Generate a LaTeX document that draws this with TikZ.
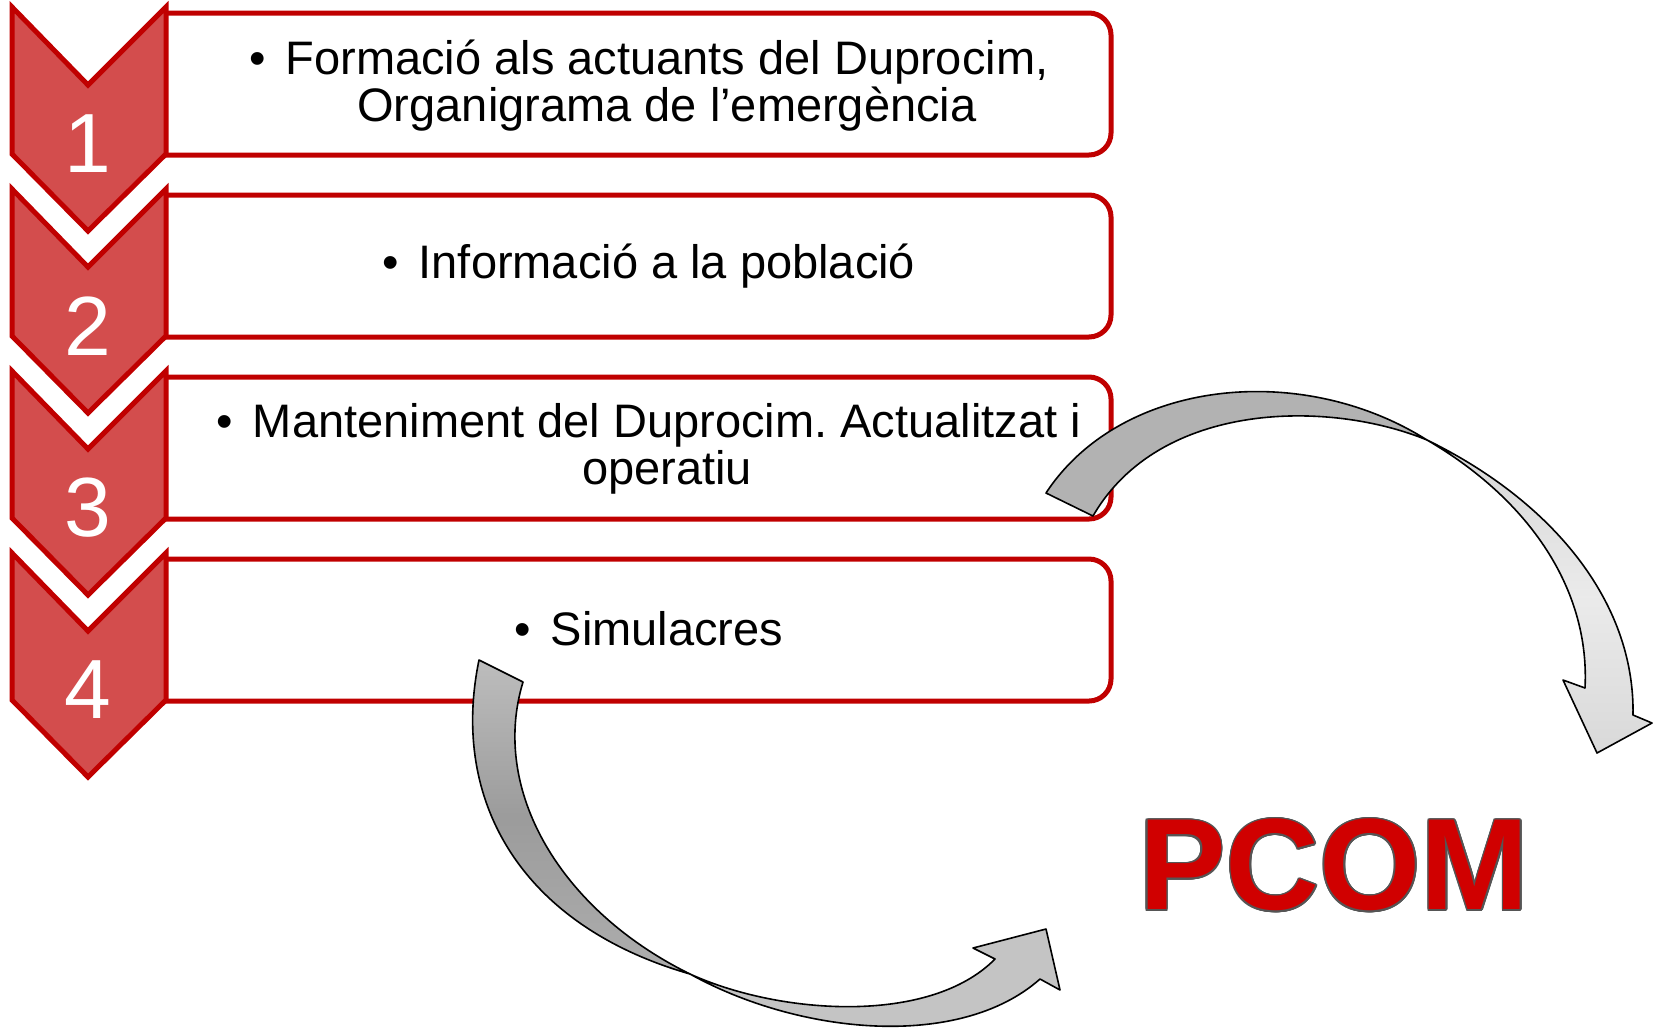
\documentclass[tikz,border=0pt]{standalone}
\usepackage{fontspec}
\setmainfont{Liberation Sans}
\usepackage{xcolor}
\usepackage{tikz}
\usepackage{contour}
\contourlength{0.8pt}
\contournumber{16}
\frenchspacing
\definecolor{boxred}{RGB}{192,0,0}
\definecolor{chevred}{RGB}{211,77,77}
\definecolor{pcomred}{RGB}{208,0,0}
\definecolor{pcomedge}{RGB}{85,85,85}
\NewDocumentCommand{\stepchevron}{m}{%
	\draw[chevron] (12,7+#1) -- (88,85+#1) -- (166,7+#1) -- (166,154+#1)
		-- (88,231+#1) -- (12,154+#1) -- cycle;}
\NewDocumentCommand{\stepbox}{m}{%
	\draw[itembox] (166,13+#1) -- (1089,13+#1)
		arc[start angle=-90, end angle=0, radius=22] -- (1111,133+#1)
		arc[start angle=0, end angle=90, radius=22] -- (166,155+#1);}
\tikzset{
	chevron/.style={draw=boxred, fill=chevred, line width=2.5pt, line join=miter},
	itembox/.style={draw=boxred, line width=2.5pt, line join=round},
	stepnum/.style={text=white, font=\fontsize{42}{42}\selectfont},
	steptext/.style={align=center, font=\fontsize{23.5}{23.5}\selectfont},
	bendarrow/.style={draw=black, line width=0.8pt, line join=round},
	pcomtext/.style={text=pcomred, font=\bfseries\fontsize{65}{65}\selectfont},
}

\begin{document}
\begin{tikzpicture}[x=0.5pt, y=-0.5pt]
		\useasboundingbox (0,0) rectangle (1653,1029);

		\stepbox{0}
		\stepbox{182}
		\stepbox{364}
		\stepbox{546}
		\stepchevron{0}
		\stepchevron{182}
		\stepchevron{364}
		\stepchevron{546}

		\path (88,144) node[stepnum] (n1) {1};
		\path (n1) ++(0, 182) node[stepnum] (n2) {2};
		\path (n2) ++(0, 182) node[stepnum] (n3) {3};
		\path (n3) ++(0, 182) node[stepnum] (n4) {4};

		\path (667,86) node[steptext] (t1) {\llap{•\hspace{10pt}}Formació als actuants del Duprocim,\\Organigrama de l’emergència};
		\path (t1) ++(0, 180) node[steptext] (t2) {\llap{•\hspace{10pt}}Informació a la població};
		\path (t2) ++(0, 183) node[steptext] (t3) {\llap{•\hspace{10pt}}Manteniment del Duprocim. Actualitzat i\\operatiu};
		\path (t3) ++(0, 180) node[steptext] (t4) {\llap{•\hspace{10pt}}Simulacres};

		% curved arrow from item 3
		\path[bendarrow, fill=gray!60] (1046,493) .. controls (1120,380) and (1300,360) .. (1427,440)
			.. controls (1330,400) and (1160,400) .. (1093,516) -- cycle;
		\path[bendarrow, top color=gray!32, bottom color=gray!30, middle color=gray!16] (1427,440)
			.. controls (1550,500) and (1635,600) .. (1633,715) -- (1652,723) -- (1597,753)
			-- (1563,680) -- (1585,688) .. controls (1590,590) and (1530,500) .. (1427,440) -- cycle;

		% curved arrow from item 4
		\path[bendarrow, top color=gray!52, bottom color=gray!64, middle color=gray!78] (479,660)
			.. controls (450,800) and (520,925) .. (690,974)
			.. controls (560,910) and (490,790) .. (523,682) -- cycle;
		\path[bendarrow, fill=gray!46] (690,974) .. controls (800,1035) and (960,1050) .. (1040,979)
			-- (1060,990) -- (1046,929) -- (973,948) -- (995,959)
			.. controls (930,1025) and (780,1015) .. (690,974) -- cycle;

		\path (1334,866) node[pcomtext] (pcom) {\contour{pcomedge}{PCOM}};
\end{tikzpicture}
\end{document}
